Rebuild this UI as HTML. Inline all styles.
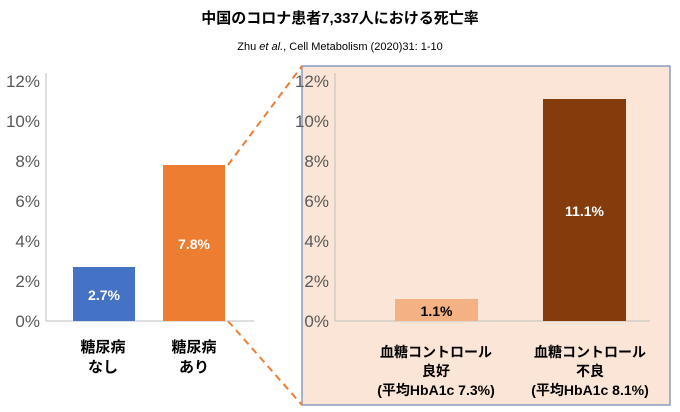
<!DOCTYPE html>
<html><head><meta charset="utf-8"><style>
body{margin:0;background:#fff;}
svg{display:block;font-family:"Liberation Sans","Noto Sans CJK JP",sans-serif;}
</style></head><body>
<svg width="680" height="412" viewBox="0 0 680 412">
<text x="340" y="23" text-anchor="middle" font-size="15" font-weight="bold" fill="#000">中国のコロナ患者7,337人における死亡率</text>
<text x="340" y="50" text-anchor="middle" font-size="11" fill="#000">Zhu <tspan font-style="italic">et al.</tspan>, Cell Metabolism (2020)31: 1-10</text>
<rect x="302" y="66" width="368" height="339" fill="#fbe5d6" stroke="#6f87b3" stroke-width="1.2"/>
<line x1="228" y1="165" x2="302" y2="66" stroke="#ed7d31" stroke-width="2" stroke-dasharray="7,5"/>
<line x1="228" y1="321" x2="302" y2="405" stroke="#ed7d31" stroke-width="2" stroke-dasharray="7,5"/>
<g id="g"></g>
<text x="103" y="352" text-anchor="middle" font-size="15" font-weight="bold"><tspan x="103">糖尿病</tspan><tspan x="103" dy="20">なし</tspan></text>
<text x="194" y="352" text-anchor="middle" font-size="15" font-weight="bold"><tspan x="194">糖尿病</tspan><tspan x="194" dy="20">あり</tspan></text>
<text x="436" y="357" text-anchor="middle" font-size="14" font-weight="bold"><tspan x="436">血糖コントロール</tspan><tspan x="436" dy="19">良好</tspan><tspan x="436" dy="19">(平均HbA1c 7.3%)</tspan></text>
<text x="590" y="357" text-anchor="middle" font-size="14" font-weight="bold"><tspan x="590">血糖コントロール</tspan><tspan x="590" dy="19">不良</tspan><tspan x="590" dy="19">(平均HbA1c 8.1%)</tspan></text>
</svg>
<script>
const ticks=[0,2,4,6,8,10,12];
const leftValues=[2.7,7.8];
const rightValues=[1.1,11.1];
const leftColors=['#4472c4','#ed7d31'];
const rightColors=['#f4b183','#843c0c'];
const y=v=>321-v*20;
const g=document.getElementById('g');
const NS='http://www.w3.org/2000/svg';
function el(t,a){const e=document.createElementNS(NS,t);for(const k in a)e.setAttribute(k,a[k]);g.appendChild(e);return e;}
function axis(ax,x0,x1,pre){
  ticks.forEach(t=>{const e=el('text',{x:ax-6,y:y(t)+6,'text-anchor':'end','font-size':17,fill:'#595959'});e.textContent=t+'%';
  
  });
  const a=el('line',{x1:ax,y1:y(12)-8,x2:ax,y2:y(0),stroke:'#bfbfbf'});
  
  
  const b=el('line',{x1:ax,y1:y(0),x2:x1,y2:y(0),stroke:'#bfbfbf'});
  
  
}
axis(46,46,254,'left');
axis(335,335,650,'right');
function bars(vals,cols,xs,w,pre,txt){
  vals.forEach((v,i)=>{
    const r=el('rect',{x:xs[i],y:y(v),width:w,height:y(0)-y(v),fill:cols[i]});
    
    
    const cy=i==0&&pre=='right'?(y(v)+y(0))/2+6:(y(v)+y(0))/2+6;
    const t=el('text',{x:xs[i]+w/2,y:cy,'text-anchor':'middle','font-size':14,'font-weight':'bold',fill:txt[i]});
    t.textContent=v+'%';
    
    
  });
}
bars(leftValues,leftColors,[73,163],62,'left',['#fff','#fff']);
bars(rightValues,rightColors,[395,543],83,'right',['#000','#fff']);
</script>
</body></html>
